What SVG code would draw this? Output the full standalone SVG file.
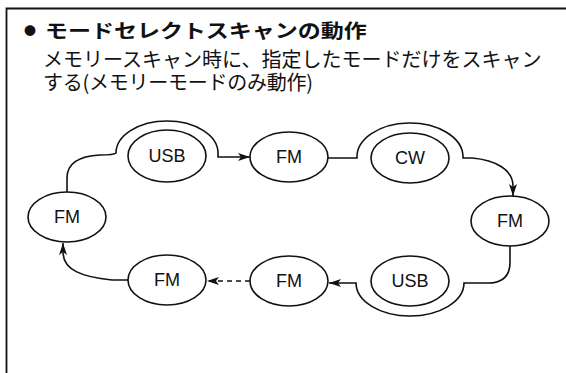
<svg xmlns="http://www.w3.org/2000/svg" width="566" height="373" viewBox="0 0 566 373">
<style>
.jp{font-family:"Noto Sans CJK JP","Noto Sans CJK SC",sans-serif;fill:#111}
.node ellipse{fill:#fff;stroke:#111;stroke-width:1.6}
.node text{font-family:"Liberation Sans",Arial,sans-serif;font-size:18px;fill:#111;text-anchor:middle}
.conn path{fill:none;stroke:#111;stroke-width:1.6}
.dash{stroke-dasharray:5 4}
</style>
<defs>
<marker id="ah" viewBox="0 0 12 8" refX="12" refY="4" markerWidth="12" markerHeight="8" markerUnits="userSpaceOnUse" orient="auto">
<path d="M0,0 L12,4 L0,8 L3,4 Z" fill="#111"/>
</marker>
</defs>
<rect width="566" height="373" fill="#fff"/>
<g id="frame" fill="none" stroke="#111">
<path d="M6.5,373 V8.5 H566" stroke-width="1.8"/>
</g>
<g id="heading">
<text class="jp" x="24" y="36" font-size="12">●</text>
<text class="jp" transform="translate(45,38) scale(1.21,1)" font-size="19" font-weight="bold">モードセレクトスキャンの動作</text>
<text class="jp" x="43" y="67" font-size="20">メモリースキャン時に、指定したモードだけをスキャン</text>
<text class="jp" x="43" y="90" font-size="20" textLength="270" lengthAdjust="spacing">する(メモリーモードのみ動作)</text>
</g>
<g id="connectors" class="conn">
<path d="M67,192 V178 C67,162 80,156 100,155 C108,155 114,155 116,153 A51,32 0 0 1 218,153 V157 H250" marker-end="url(#ah)"/>
<path d="M328,158 H357 A53,34 0 0 1 463,156 V158 H472 C496,160 513,170 513,186 V196" marker-end="url(#ah)"/>
<path d="M510,246 V262 C510,276 502,283 488,283 H464 A54,33 0 0 1 356,283 H329" marker-end="url(#ah)"/>
<path class="dash" d="M250,281 H207" marker-end="url(#ah)"/>
<path d="M128,280 H112 C82,277 63,270 63,252 V243" marker-end="url(#ah)"/>
</g>
<g id="fm-left" class="node"><ellipse cx="67" cy="217" rx="39" ry="25"/><text x="67" y="223">FM</text></g>
<g id="usb-top" class="node"><ellipse cx="167" cy="156" rx="39" ry="26"/><text x="167" y="162">USB</text></g>
<g id="fm-top" class="node"><ellipse cx="289" cy="157" rx="39" ry="25"/><text x="289" y="163">FM</text></g>
<g id="cw" class="node"><ellipse cx="410" cy="158" rx="39" ry="25"/><text x="410" y="164">CW</text></g>
<g id="fm-right" class="node"><ellipse cx="510" cy="221" rx="39" ry="25"/><text x="510" y="227">FM</text></g>
<g id="usb-bottom" class="node"><ellipse cx="410" cy="281" rx="39" ry="25"/><text x="410" y="287">USB</text></g>
<g id="fm-bottom-mid" class="node"><ellipse cx="289" cy="281" rx="39" ry="25"/><text x="289" y="287">FM</text></g>
<g id="fm-bottom-left" class="node"><ellipse cx="167" cy="280" rx="39" ry="25"/><text x="167" y="286">FM</text></g>
</svg>
